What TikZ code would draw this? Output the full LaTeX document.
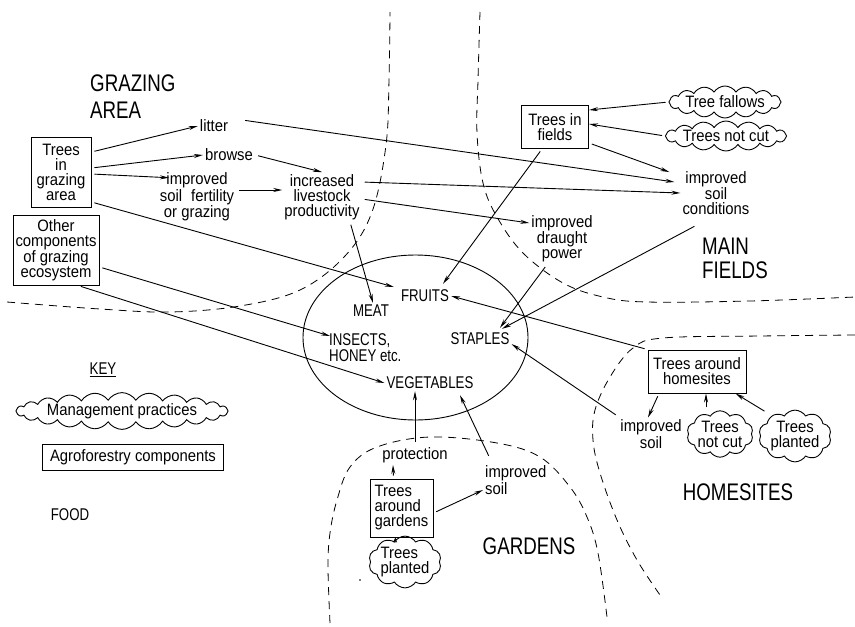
\documentclass[tikz,border=0pt]{standalone}
\usepackage{fontspec}
\setmainfont{Liberation Sans}[FakeStretch=0.9]
\newfontfamily\capsfont{Liberation Sans}[FakeStretch=0.78]
\usetikzlibrary{arrows.meta,shapes.geometric,shapes.symbols}
\begin{document}
\begin{tikzpicture}[x=1pt,y=-1pt,
  every node/.style={font=\fontsize{16.5}{15}\selectfont, inner sep=2pt},
  lbl/.style={align=center},
  capsf/.style={font=\capsfont\fontsize{17}{15}\selectfont},
  big/.style={font=\capsfont\fontsize{24}{26.5}\selectfont, align=left},
  afbox/.style={draw, line width=1pt, align=center, inner sep=2.5pt},
  mgcloud/.style={draw, cloud, cloud puffs=#1, cloud puff arc=115, cloud ignores aspect,
    line width=0.9pt, align=center, inner sep=0pt},
  mgcloud/.default=14,
  conn/.style={line width=0.9pt, -{Stealth[length=9pt,width=4pt]}, shorten <=3pt},
  shortconn/.style={line width=0.9pt, -{Stealth[length=5pt,width=4pt]}},
  bound/.style={line width=0.8pt, dash pattern=on 8pt off 6pt},
]
\useasboundingbox (0,0) rectangle (855,627);

% region boundaries
\draw[bound] plot[smooth, tension=0.6] coordinates {(7,302) (100,309) (170,312) (240,306) (300,290) (345,256) (372,212) (386,145) (389,80) (390,12)};
\draw[bound] plot[smooth, tension=0.6] coordinates {(480,12) (478,80) (477,133) (483,183) (497,217) (523,253) (563,283) (603,297) (647,302) (750,301) (855,297)};
\draw[bound] plot[smooth, tension=0.6] coordinates {(855,335) (760,336) (663,338) (633,348) (610,377) (595,410) (593,440) (600,473) (617,520) (637,560) (660,595)};
\draw[bound] plot[smooth, tension=0.6] coordinates {(330,623) (328,567) (330,533) (337,500) (350,467) (377,447) (430,437) (497,443) (540,457) (570,487) (587,517) (598,553) (607,617)};

% region labels
\node[big, anchor=north west] (grz) at (88,73) {GRAZING\\AREA};
\node[big, anchor=north west, font=\capsfont\fontsize{24}{23.5}\selectfont] (mainf) at (700,236) {MAIN\\FIELDS};
\node[big] (homes) at (738,492) {HOMESITES};
\node[big] (gard) at (529,546) {GARDENS};

% grazing area
\node[afbox, minimum width=60, minimum height=70] (tga) at (61,172) {Trees\\in\\grazing\\area};
\node[afbox, minimum width=86, minimum height=70] (oc) at (56,250) {Other\\components\\of grazing\\ecosystem};
\node (litter) at (214,126) {litter};
\node (browse) at (229,155) {browse};
\node[lbl] (isf) at (197,197) {improved\\soil\hspace{0.55em}fertility\\or grazing};
\node[lbl] (ilp) at (322,197) {increased\\livestock\\productivity};

% main fields
\node[afbox, minimum width=67, minimum height=43] (tif) at (555,127) {Trees in\\fields};
\node[mgcloud=16, minimum width=106, minimum height=32] (tfal) at (725,102) {Tree fallows};
\node[mgcloud=16, minimum width=110, minimum height=30] (tnc1) at (726,136) {Trees not cut};
\node[lbl] (isc) at (716,193) {improved\\soil\\conditions};
\node[lbl] (idp) at (562,239) {improved\\draught\\power};

% food
\node[draw, ellipse, line width=0.9pt, minimum width=225, minimum height=165, inner sep=0] (pool) at (415.5,337.5) {};
\node[capsf] (fruits) at (425,296) {FRUITS};
\node[capsf] (meat) at (371,311) {MEAT};
\node[capsf, align=left, anchor=west, font=\capsfont\fontsize{17}{16}\selectfont] (insects) at (327,348) {INSECTS,\\HONEY etc.};
\node[capsf] (staples) at (480,339) {STAPLES};
\node[capsf] (veg) at (430,383) {VEGETABLES};

% homesites
\node[afbox, minimum width=98, minimum height=43] (tah) at (697,371.5) {Trees around\\homesites};
\node[lbl] (ish) at (651,434) {improved\\soil};
\node[mgcloud=10, minimum width=62, minimum height=44] (tnc2) at (720,434) {Trees\\not cut};
\node[mgcloud=10, minimum width=67, minimum height=44] (tpl1) at (795,436) {Trees\\planted};

% gardens
\node (prot) at (415,455) {protection};
\node[afbox, align=left, minimum width=63, minimum height=58] (tag) at (401.5,508) {Trees\\around\\gardens};
\node[align=left, anchor=west] (isg) at (483,480) {improved\\soil};
\node[mgcloud=10, align=left, minimum width=67, minimum height=45] (tpl2) at (405,562) {Trees\\planted};
\fill (360,580) circle[radius=0.9pt];

% key
\node[capsf] (key) at (103,370) {\underline{KEY}};
\node[mgcloud=24, minimum width=180, minimum height=35] (mp) at (122,411) {Management practices};
\node[afbox, minimum width=181, minimum height=26] (ac) at (133,457) {Agroforestry components};
\node[capsf] (foodl) at (70,515) {FOOD};

% connectors
\draw[conn] ([yshift=20]tga.east) -- (litter.west);
\draw[conn] ([yshift=4]tga.east) -- (browse.west);
\draw[conn] ([yshift=-2]tga.east) -- ([xshift=-28,yshift=-7]isf.north);
\draw[conn] ([yshift=7]isf.east) -- ([yshift=7]ilp.west);
\draw[conn] (browse.east) -- (ilp.north);
\draw[conn] ([xshift=12,yshift=6]litter.east) -- ([xshift=-6,yshift=11]isc.west);
\draw[conn] ([yshift=15]ilp.east) -- (isc.west);
\draw[conn] ([yshift=-2]ilp.east) -- ([yshift=16]idp.west);
\draw[conn] ([xshift=-15]idp.south) -- ([xshift=20,yshift=3]staples.north);
\draw[conn] ([xshift=-19,yshift=-8]isc.south) -- ([xshift=22,yshift=2]staples.north);
\draw[conn] ([xshift=-13]tif.south) -- ([xshift=18,yshift=4]fruits.north);
\draw[conn] (tfal.west) -- ([yshift=17]tif.east);
\draw[conn] (tnc1.west) -- ([yshift=3]tif.east);
\draw[conn] ([yshift=-16]tif.east) -- ([xshift=-11,yshift=-3]isc.north west);
\draw[conn] ([yshift=-30]tga.east) -- ([xshift=-5,yshift=9]fruits.west);
\draw[conn] ([xshift=28]ilp.south) -- ([xshift=2]meat.north);
\draw[conn] ([yshift=-17]oc.east) -- ([xshift=3,yshift=12]insects.west);
\draw[conn] ([xshift=22]oc.south) -- (veg.west);
\draw[conn] (tah.north west) -- (fruits.east);
\draw[conn] ([yshift=1]ish.north west) -- ([yshift=-5]staples.east);
\draw[conn] ([xshift=-38]tah.south) -- ([xshift=-3]ish.north);
\draw[conn] ([xshift=-14]tnc2.north) -- ([xshift=9]tah.south);
\draw[conn] ([xshift=-28,yshift=-3]tpl1.north) -- ([xshift=-11]tah.south east);
\draw[conn] ([xshift=-8]tag.north) -- ([xshift=-22]prot.south);
\draw[conn] ([yshift=-5]tag.east) -- ([yshift=-10]isg.west);
\draw[shortconn] ([xshift=-10,yshift=-7]tpl2.north) -- ([xshift=-6]tag.south);
\draw[conn] (prot.north) -- ([xshift=-15]veg.south);
\draw[conn] ([xshift=7,yshift=5]isg.north west) -- ([xshift=30,yshift=-4]veg.south);
\end{tikzpicture}
\end{document}
